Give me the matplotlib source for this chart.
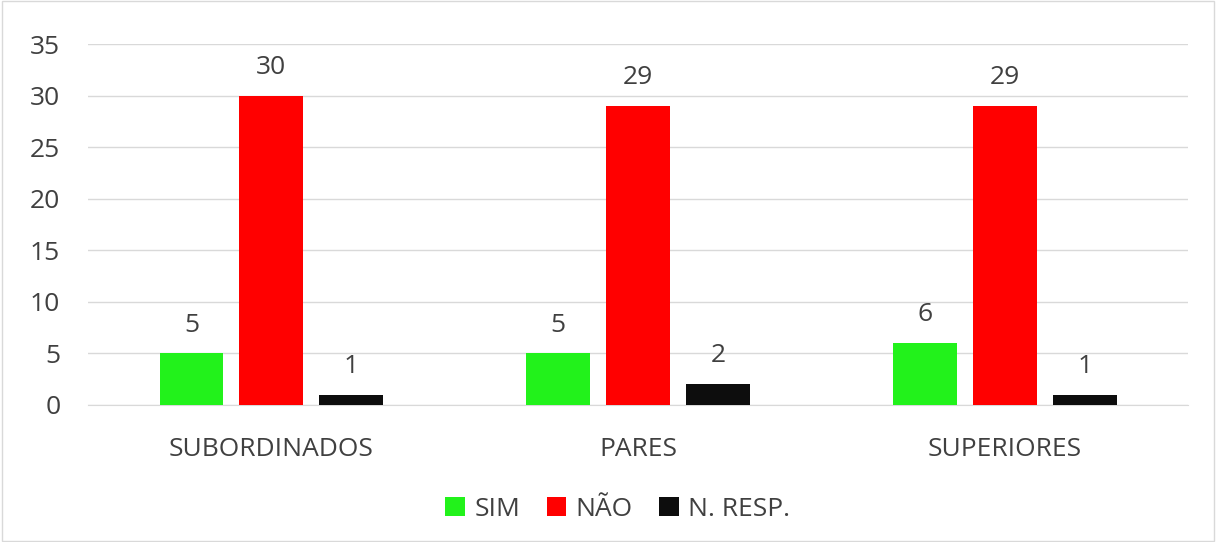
import numpy as np
import matplotlib.pyplot as plt
import matplotlib.patches as mpatches

plt.rcParams['font.family'] = ['Open Sans', 'DejaVu Sans']

# data
categories = ["SUBORDINADOS", "PARES", "SUPERIORES"]
series = ["SIM", "NÃO", "N. RESP."]
sim = [5, 5, 6]
nao = [30, 29, 29]
nresp = [1, 2, 1]
colors = ["#22F21B", "#FF0000", "#0D0D0D"]

fig = plt.figure(figsize=(12.16, 5.42), dpi=100)
ax = fig.add_axes([0.0724, 0.2528, 0.9046, 0.666])

# chart border
fig.patches.append(mpatches.Rectangle((0.002, 0.002), 0.996, 0.996, transform=fig.transFigure,
                                      fill=False, edgecolor="#D9D9D9", linewidth=1))

x = np.arange(len(categories))
w = 0.174
off = 0.218
for i, (vals, name) in enumerate(zip([sim, nao, nresp], series)):
    bars = ax.bar(x + (i - 1) * off, vals, w, color=colors[i], label=name, zorder=3)
    for b, v in zip(bars, vals):
        ax.text(b.get_x() + b.get_width() / 2, v + 2.75, str(v), ha="center", va="center",
                fontsize=19, color="#404040")

ax.set_xlim(-0.5, 2.5)
ax.set_ylim(0, 35)
ax.set_yticks(range(0, 36, 5))
ax.yaxis.grid(True, color="#D9D9D9", linewidth=1, zorder=0)
for s in ["top", "right", "left"]:
    ax.spines[s].set_visible(False)
ax.spines["bottom"].set_color("#D9D9D9")
ax.tick_params(axis="both", length=0, labelsize=19, labelcolor="#404040")
ax.tick_params(axis="y", pad=20)
ax.tick_params(axis="x", pad=23)
ax.set_xticks(x)
ax.set_xticklabels(categories)

fig.legend(loc="center", bbox_to_anchor=(0.508, 0.06), ncol=3, frameon=False,
           fontsize=19, handlelength=0.75, handleheight=0.75, handletextpad=0.35,
           columnspacing=1.0, labelcolor="#404040")

fig.savefig("out.png", dpi=100)
